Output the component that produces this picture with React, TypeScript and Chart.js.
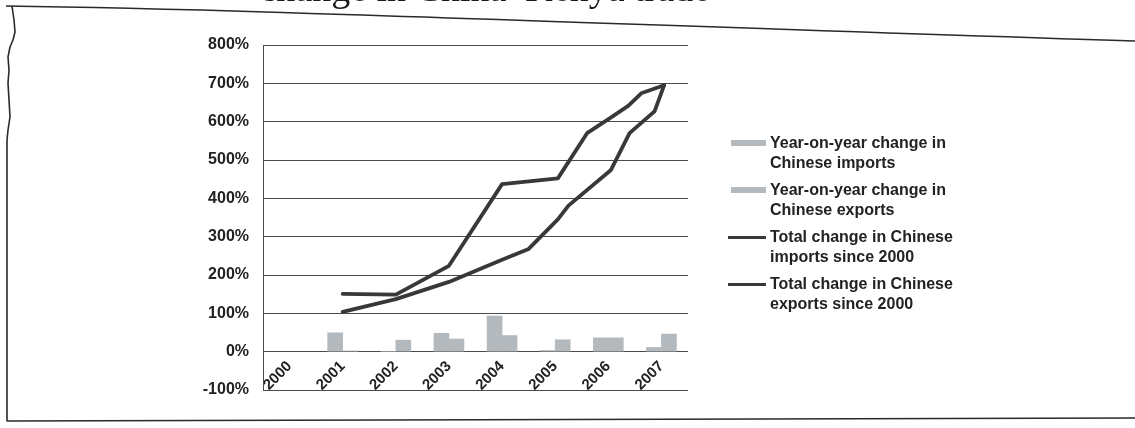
import React, { useEffect, useRef } from "react";
import { Chart, registerables } from "chart.js";

Chart.register(...registerables);

// ---- data ----
const years = ["2000", "2001", "2002", "2003", "2004", "2005", "2006", "2007"];
const yoyImports = [null, 49, 0, 48, 93, 3, 36, 11];
const yoyExports = [null, 2, 30, 33, 42, 31, 36, 46];

const importsTotalYears = [2001, 2002, 2003, 2004, 2005.05, 2005.6, 2006.06, 2006.38, 2006.62, 2007.05];
const importsTotalValues = [151, 149, 224, 437, 452, 570, 612, 642, 674, 695];

const exportsTotalYears = [2001, 2002, 2003, 2004, 2004.5, 2005.05, 2005.25, 2006.05, 2006.4, 2006.87, 2007.0, 2007.05];
const exportsTotalValues = [104, 137, 182, 240, 268, 345, 381, 474, 570, 627, 676, 695];

const yMin = -100;
const yMax = 800;
const yStep = 100;

const seriesLabels = [
  ["Year-on-year change in", "Chinese imports"],
  ["Year-on-year change in", "Chinese exports"],
  ["Total change in Chinese", "imports since 2000"],
  ["Total change in Chinese", "exports since 2000"],
];
const titleText = "Percentage change in China\u2013Kenya trade";

// ---- styles ----
const BAR = "#b3b9bc";
const LINE = "#383838";
const GRID = "#4a4a4a";
const TEXT = "#222222";
const FONT = "'Liberation Sans', Arial, sans-serif";

const framePlugin = {
  id: "scanFrame",
  afterDraw(chart: any) {
    const ctx = chart.ctx;
    ctx.save();
    ctx.strokeStyle = "#2a2a2a";
    ctx.lineWidth = 1.6;
    ctx.lineJoin = "round";
    ctx.beginPath();
    ctx.moveTo(6, 6);
    ctx.bezierCurveTo(250, 9, 600, 24, 1135, 41);
    ctx.stroke();
    ctx.beginPath();
    const left: [number, number][] = [
      [12, 6], [14, 20], [15, 32], [13, 40], [10, 47], [8, 57], [9, 70], [8, 83], [9, 100], [10, 117], [8, 130], [7, 140], [7, 421],
    ];
    left.forEach(([x, y], i) => (i === 0 ? ctx.moveTo(x, y) : ctx.lineTo(x, y)));
    ctx.lineTo(1135, 418);
    ctx.stroke();
    ctx.restore();
  },
};

function Legend() {
  const tops = [133, 180, 227, 274];
  return (
    <div style={{ position: "absolute", left: 0, top: 0 }}>
      {seriesLabels.map((lines, i) => (
        <div key={i} style={{ position: "absolute", left: 0, top: tops[i] }}>
          {i < 2 ? (
            <div style={{ position: "absolute", left: 731, top: 7, width: 35, height: 6, background: BAR }} />
          ) : (
            <div style={{ position: "absolute", left: 728, top: 9, width: 38, height: 3, background: LINE }} />
          )}
          <div
            style={{
              position: "absolute",
              left: 770,
              top: 0,
              font: `bold 16px ${FONT}`,
              lineHeight: "20px",
              color: TEXT,
              whiteSpace: "nowrap",
            }}
          >
            {lines.map((l, j) => (
              <div key={j}>{l}</div>
            ))}
          </div>
        </div>
      ))}
    </div>
  );
}

export default function App() {
  const ref = useRef<HTMLCanvasElement | null>(null);

  useEffect(() => {
    if (!ref.current) return;
    const barCommon = {
      type: "bar",
      backgroundColor: BAR,
      xAxisID: "x",
      yAxisID: "y",
      barThickness: 15,
      order: 2,
    };
    const lineCommon = {
      type: "line",
      xAxisID: "xl",
      yAxisID: "y",
      borderColor: LINE,
      borderWidth: 3.8,
      pointRadius: 0,
      tension: 0,
      borderJoinStyle: "round",
      borderCapStyle: "round",
      order: 1,
    };
    const chart = new Chart(ref.current, {
      data: {
        labels: years,
        datasets: [
          {
            ...lineCommon,
            label: seriesLabels[2].join(" "),
            data: importsTotalYears.map((x, i) => ({ x, y: importsTotalValues[i] })),
          },
          { ...barCommon, label: seriesLabels[0].join(" "), data: yoyImports },
          { ...barCommon, label: seriesLabels[1].join(" "), data: yoyExports },
          {
            ...lineCommon,
            label: seriesLabels[3].join(" "),
            data: exportsTotalYears.map((x, i) => ({ x, y: exportsTotalValues[i] })),
          },
        ],
      },
      options: {
        animation: false,
        responsive: false,
        maintainAspectRatio: false,
        layout: { padding: { left: 0, right: 447, top: 45, bottom: 38 } },
        plugins: { legend: { display: false }, tooltip: { enabled: false } },
        scales: {
          x: {
            type: "category",
            position: { y: 0 },
            offset: true,
            grid: { display: false, drawTicks: false },
            border: { display: false },
            ticks: {
              autoSkip: false,
              maxRotation: 45,
              minRotation: 45,
              padding: 6,
              color: TEXT,
              font: { family: FONT, size: 15, weight: "bold" },
            },
          },
          xl: {
            type: "linear",
            display: false,
            min: 1999.5,
            max: 2007.5,
          },
          y: {
            type: "linear",
            min: yMin,
            max: yMax,
            grid: { color: GRID, lineWidth: 1, drawTicks: false },
            border: { color: GRID, width: 1 },
            ticks: {
              stepSize: yStep,
              padding: 14,
              color: TEXT,
              font: { family: FONT, size: 16, weight: "bold" },
              callback: (v: any) => `${v}%`,
            },
            afterFit: (s: any) => {
              s.width = 263;
            },
          },
        },
      },
      plugins: [framePlugin],
    } as any);
    return () => chart.destroy();
  }, []);

  return (
    <div style={{ position: "absolute", left: 0, top: 0, width: 1135, height: 428, background: "#fff", overflow: "hidden" }}>
      <canvas ref={ref} width={1135} height={428} style={{ display: "block", width: 1135, height: 428 }} />
      <div style={{ position: "absolute", left: 262, top: 0, width: 460, height: 20, overflow: "hidden" }}>
        <div
          style={{
            position: "absolute",
            right: 12,
            top: -32,
            font: "38px 'Liberation Serif', 'Times New Roman', serif",
            lineHeight: "40px",
            color: "#1a1a1a",
            whiteSpace: "nowrap",
          }}
        >
          {titleText}
        </div>
      </div>
      <Legend />
    </div>
  );
}
